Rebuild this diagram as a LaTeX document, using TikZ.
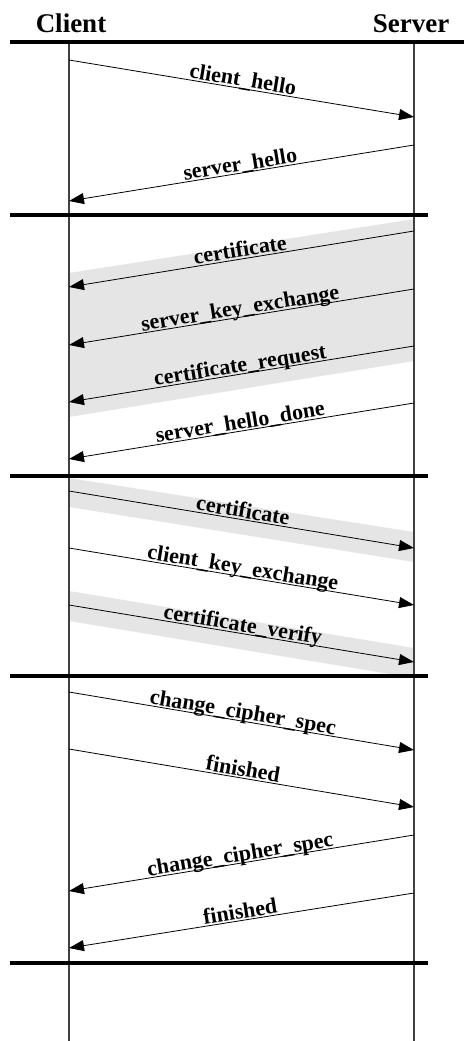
\documentclass[tikz,border=0pt]{standalone}
\usepackage{fontspec}
\setmainfont{Liberation Serif}
\usetikzlibrary{arrows.meta}

\begin{document}
\begin{tikzpicture}[x=1pt,y=-1pt]

\tikzset{msg/.style = {-{Triangle[length=15pt,width=11pt]}, line width=0.8pt}}
\tikzset{lbl/.style = {font=\bfseries\fontsize{22}{22}\selectfont, sloped, anchor=base, inner sep=0pt, yshift=2pt}}
\tikzset{head/.style = {font=\bfseries\fontsize{27}{27}\selectfont, anchor=base, inner sep=0pt}}
\tikzset{phase/.style = {line width=4pt}}
\tikzset{life/.style = {line width=1.2pt, black!75}}
\tikzset{band/.style = {fill=black!10}}

\useasboundingbox (0,0) rectangle (464,1041);

%headers
\node[head] (client) at (71,33) {Client};
\node[head] (server) at (411,33) {Server};

%shaded groups
\fill[band] (414,219) -- (69,273) -- (69,417) -- (414,361) -- cycle;
\fill[band] (69,478) -- (414,532) -- (414,562) -- (69,507) -- cycle;
\fill[band] (69,591) -- (414,648) -- (414,678) -- (69,621) -- cycle;

%lifelines
\coordinate (ctop) at (69,43);
\coordinate (cbot) at (69,1041);
\coordinate (stop) at (414,43);
\coordinate (sbot) at (414,1041);
\draw[life] (ctop) -- (cbot);
\draw[life] (stop) -- (sbot);

%phase separators
\coordinate (p0a) at (10,42);  \coordinate (p0b) at (464,42);
\coordinate (p1a) at (10,215); \coordinate (p1b) at (428,215);
\coordinate (p2a) at (10,476); \coordinate (p2b) at (428,476);
\coordinate (p3a) at (10,676); \coordinate (p3b) at (428,676);
\coordinate (p4a) at (10,963); \coordinate (p4b) at (428,963);
\draw[phase] (p0a) -- (p0b);
\draw[phase] (p1a) -- (p1b);
\draw[phase] (p2a) -- (p2b);
\draw[phase] (p3a) -- (p3b);
\draw[phase] (p4a) -- (p4b);

%message end points
\coordinate (m1a) at (69,60);   \coordinate (m1b) at (414,117);
\coordinate (m2a) at (414,145); \coordinate (m2b) at (69,201);
\coordinate (m3a) at (414,231); \coordinate (m3b) at (69,287);
\coordinate (m4a) at (414,289); \coordinate (m4b) at (69,345);
\coordinate (m5a) at (414,346); \coordinate (m5b) at (69,402);
\coordinate (m6a) at (414,403); \coordinate (m6b) at (69,459);
\coordinate (m7a) at (69,491);  \coordinate (m7b) at (414,548);
\coordinate (m8a) at (69,548);  \coordinate (m8b) at (414,605);
\coordinate (m9a) at (69,605);  \coordinate (m9b) at (414,662);
\coordinate (m10a) at (69,692);  \coordinate (m10b) at (414,750);
\coordinate (m11a) at (69,749);  \coordinate (m11b) at (414,807);
\coordinate (m12a) at (414,835); \coordinate (m12b) at (69,891);
\coordinate (m13a) at (414,893); \coordinate (m13b) at (69,948);

%messages
\draw[msg] (m1a) -- (m1b) node[lbl, midway] {client\_hello};
\draw[msg] (m2a) -- (m2b) node[lbl, midway] {server\_hello};
\draw[msg] (m3a) -- (m3b) node[lbl, midway] {certificate};
\draw[msg] (m4a) -- (m4b) node[lbl, midway] {server\_key\_exchange};
\draw[msg] (m5a) -- (m5b) node[lbl, midway] {certificate\_request};
\draw[msg] (m6a) -- (m6b) node[lbl, midway] {server\_hello\_done};
\draw[msg] (m7a) -- (m7b) node[lbl, midway] {certificate};
\draw[msg] (m8a) -- (m8b) node[lbl, midway] {client\_key\_exchange};
\draw[msg] (m9a) -- (m9b) node[lbl, midway] {certificate\_verify};
\draw[msg] (m10a) -- (m10b) node[lbl, midway] {change\_cipher\_spec};
\draw[msg] (m11a) -- (m11b) node[lbl, midway] {finished};
\draw[msg] (m12a) -- (m12b) node[lbl, midway] {change\_cipher\_spec};
\draw[msg] (m13a) -- (m13b) node[lbl, midway] {finished};

\end{tikzpicture}
\end{document}
